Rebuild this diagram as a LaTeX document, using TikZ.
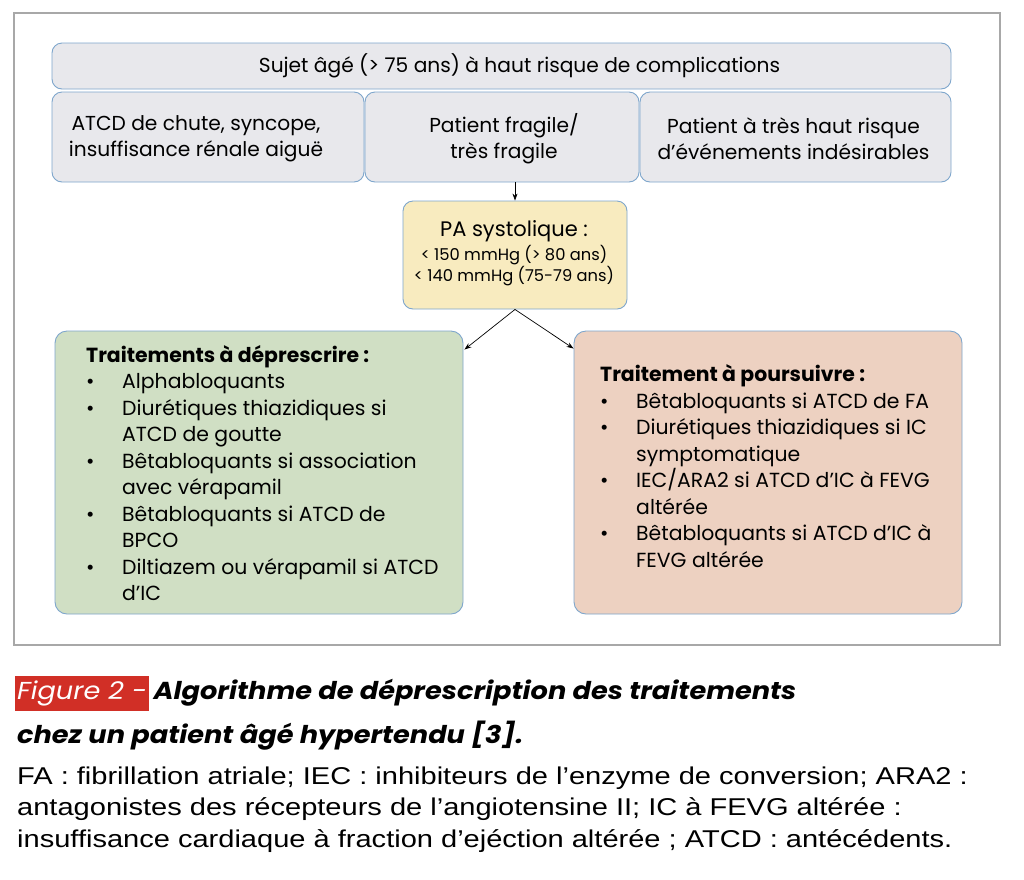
\documentclass[tikz,border=0pt]{standalone}
\usepackage{fontspec}
\setmainfont{Poppins}
\newfontfamily\capfont{Poppins}[FakeStretch=1.11]
\newfontfamily\notefont{Liberation Sans}[FakeStretch=1.195]
\usetikzlibrary{calc,arrows.meta}
\definecolor{framegray}{HTML}{A8A8A8}
\definecolor{grayfill}{HTML}{E8E8EC}
\definecolor{boxline}{HTML}{7EA6CC}
\definecolor{yellowfill}{HTML}{F8EBBF}
\definecolor{greenfill}{HTML}{D0DFC4}
\definecolor{orangefill}{HTML}{EDD1C1}
\definecolor{capred}{HTML}{D12F26}
\newcommand{\bul}{\makebox[36pt][l]{•}}
\newcommand{\ind}{\hspace*{36pt}}
\begin{document}
\begin{tikzpicture}[x=1pt,y=-1pt,
  box/.style={draw=boxline, line width=0.9pt, rounded corners=10pt, inner sep=0pt, align=center,
    font=\fontsize{20.2}{26}\selectfont},
  graybox/.style={box, fill=grayfill},
  boxtext/.style={inner sep=0pt, align=center, font=\fontsize{20.2}{26}\selectfont},
  arr/.style={-{Stealth[length=7pt,width=5pt]}, line width=0.7pt, black},
  listtext/.style={anchor=west, align=left, inner sep=0pt, font=\fontsize{20.4}{26.5}\selectfont}]
\useasboundingbox (0,0) rectangle (1024,879);
\fill[white] (0,0) rectangle (1024,879);
\draw[framegray, line width=2pt] (14,13) rectangle (1000,645);

\node[graybox, minimum width=899pt, minimum height=46pt] (top) at (501.5,66) {};
\node[boxtext] (ttop) at ($(top)+(18,0)$) {Sujet âgé (> 75 ans) à haut risque de complications};
\node[graybox, minimum width=312pt, minimum height=90pt] (b1) at (208,137) {};
\node[boxtext] (t1) at ($(b1)+(-12,1.5)$) {ATCD de chute, syncope,\\insuffisance rénale aiguë};
\node[graybox, minimum width=274pt, minimum height=90pt] (b2) at (502,137) {};
\node[boxtext] (t2) at ($(b2)+(2,1.5)$) {Patient fragile/\\très fragile};
\node[graybox, minimum width=311pt, minimum height=90pt] (b3) at (795.5,137) {};
\node[boxtext] (t3) at ($(b3)+(-2,1.5)$) {Patient à très haut risque\\d’événements indésirables};

\node[box, fill=yellowfill, minimum width=224pt, minimum height=108pt] (pa) at (515,255) {};
\node[inner sep=0pt, font=\fontsize{21}{24}\selectfont] (pa1) at (514,231) {PA systolique :};
\node[inner sep=0pt, font=\fontsize{16.3}{19}\selectfont] (pa2) at (514,255) {< 150 mmHg (> 80 ans)};
\node[inner sep=0pt, font=\fontsize{16.3}{19}\selectfont] (pa3) at (514,276) {< 140 mmHg (75-79 ans)};

\node[box, fill=greenfill, minimum width=408pt, minimum height=283pt, rounded corners=12pt] (green) at (259,472.5) {};
\node[listtext] (gt) at (86,473) {\textbf{Traitements à déprescrire :}\\
\bul Alphabloquants\\
\bul Diurétiques thiazidiques si\\
\ind ATCD de goutte\\
\bul Bêtabloquants si association\\
\ind avec vérapamil\\
\bul Bêtabloquants si ATCD de\\
\ind BPCO\\
\bul Diltiazem ou vérapamil si ATCD\\
\ind d’IC};

\node[box, fill=orangefill, minimum width=388pt, minimum height=283pt, rounded corners=12pt] (orange) at (768,472.5) {};
\node[listtext] (ot) at (600,466) {\textbf{Traitement à poursuivre :}\\
\bul Bêtabloquants si ATCD de FA\\
\bul Diurétiques thiazidiques si IC\\
\ind symptomatique\\
\bul IEC/ARA2 si ATCD d’IC à FEVG\\
\ind altérée\\
\bul Bêtabloquants si ATCD d’IC à\\
\ind FEVG altérée};

\draw[arr] (pa.north |- b2.south) -- (pa.north);
\draw[arr] (pa.south) -- ($(green.north east)+(1,19)$);
\draw[arr] (pa.south) -- ($(orange.north west)+(0,18)$);

\node[fill=capred, text=white, anchor=west, minimum height=35pt, inner xsep=2pt, inner ysep=0pt,
  font=\capfont\fontsize{24.5}{28}\selectfont\itshape] (figlab) at (15,693) {Figure 2 -};
\node[anchor=base west, inner sep=0pt, font=\capfont\fontsize{24.5}{28}\selectfont\bfseries\itshape] (cap1) at ($(figlab.base east)+(4,0)$) {Algorithme de déprescription des traitements};
\node[anchor=base west, inner sep=0pt, font=\capfont\fontsize{24.5}{28}\selectfont\bfseries\itshape] (cap2) at (17,743) {chez un patient âgé hypertendu [3].};
\node[anchor=base west, inner sep=0pt, font=\notefont\fontsize{24.3}{31.5}\selectfont] (n1) at (17,784) {FA : fibrillation atriale; IEC : inhibiteurs de l’enzyme de conversion; ARA2 :};
\node[anchor=base west, inner sep=0pt, font=\notefont\fontsize{24.3}{31.5}\selectfont] (n2) at (17,815.5) {antagonistes des récepteurs de l’angiotensine II; IC à FEVG altérée :};
\node[anchor=base west, inner sep=0pt, font=\notefont\fontsize{24.3}{31.5}\selectfont] (n3) at (17,847) {insuffisance cardiaque à fraction d’ejéction altérée ; ATCD : antécédents.};
\end{tikzpicture}
\end{document}
